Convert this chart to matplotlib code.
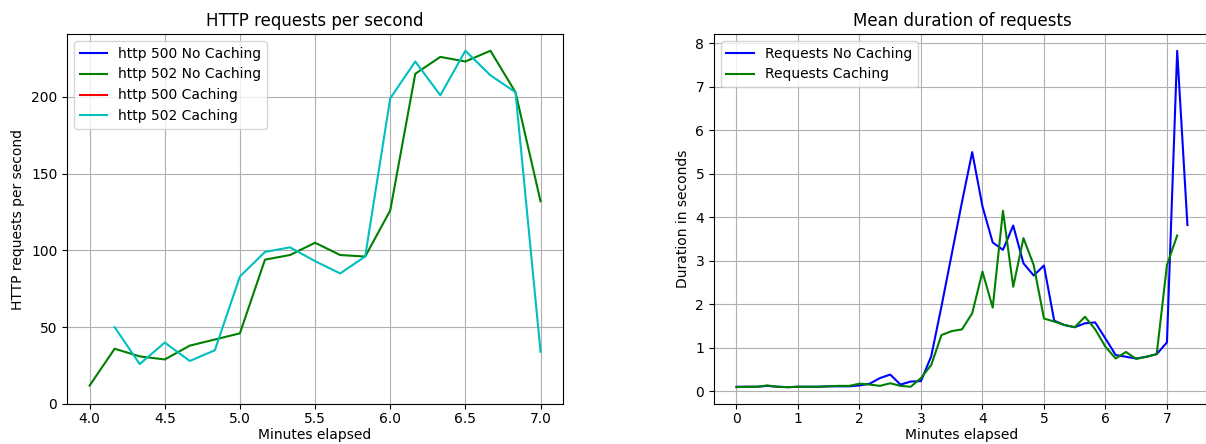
import matplotlib
matplotlib.use("Agg")
import matplotlib.pyplot as plt

# left panel: http error rates, one point every 10 s from minute 4 to 7
minutes_http = [4.0, 4.1667, 4.3333, 4.5, 4.6667, 4.8333, 5.0, 5.1667, 5.3333, 5.5,
                5.6667, 5.8333, 6.0, 6.1667, 6.3333, 6.5, 6.6667, 6.8333, 7.0]
http500_no_cache = []  # no 500 errors recorded
http502_no_cache = [12, 36, 31, 29, 38, 42, 46, 94, 97, 105,
                    97, 96, 126, 215, 226, 223, 230, 203, 132]
http500_cache = []
minutes_http_cache = minutes_http[1:]
http502_cache = [50, 26, 40, 28, 35, 83, 99, 102, 93,
                 85, 96, 199, 223, 201, 230, 214, 203, 34]

# right panel: mean request duration, one point every 10 s
minutes_dur = [k / 6 for k in range(45)]
dur_no_cache = [0.10, 0.10, 0.10, 0.12, 0.10, 0.09, 0.10, 0.10, 0.10, 0.11,
                0.11, 0.11, 0.13, 0.17, 0.30, 0.38, 0.15, 0.22, 0.23, 0.80,
                1.95, 3.15, 4.35, 5.50, 4.25, 3.42, 3.25, 3.81, 2.94, 2.66,
                2.89, 1.62, 1.52, 1.47, 1.56, 1.58, 1.21, 0.83, 0.79, 0.75,
                0.79, 0.85, 1.12, 7.83, 3.82]
dur_cache = [0.09, 0.10, 0.10, 0.13, 0.10, 0.09, 0.10, 0.10, 0.10, 0.11,
             0.12, 0.12, 0.17, 0.15, 0.12, 0.18, 0.12, 0.10, 0.30, 0.60,
             1.29, 1.38, 1.42, 1.79, 2.75, 1.92, 4.15, 2.40, 3.52, 2.90,
             1.67, 1.60, 1.52, 1.47, 1.71, 1.42, 1.02, 0.75, 0.90, 0.74,
             0.79, 0.85, 2.90, 3.58]

fig = plt.figure(figsize=(12.06, 4.44), dpi=100)
ax1 = fig.add_axes([0.0556, 0.0901, 0.4113, 0.8333])
ax2 = fig.add_axes([0.592, 0.0901, 0.4113, 0.8333])

ax1.plot(minutes_http[:len(http500_no_cache)], http500_no_cache, 'b', label='http 500 No Caching')
ax1.plot(minutes_http, http502_no_cache, 'g', label='http 502 No Caching')
ax1.plot(minutes_http_cache[:len(http500_cache)], http500_cache, 'r', label='http 500 Caching')
ax1.plot(minutes_http_cache, http502_cache, 'c', label='http 502 Caching')
ax1.set_ylim(bottom=0)
ax1.set_title('HTTP requests per second', fontsize=12)
ax1.set_xlabel('Minutes elapsed', labelpad=1)
ax1.set_ylabel('HTTP requests per second')
ax1.grid()
ax1.legend(loc='upper left')

ax2.plot(minutes_dur, dur_no_cache, 'b', label='Requests No Caching')
ax2.plot(minutes_dur[:len(dur_cache)], dur_cache, 'g', label='Requests Caching')
ax2.set_title('Mean duration of requests', fontsize=12)
ax2.set_xlabel('Minutes elapsed', labelpad=1)
ax2.set_ylabel('Duration in seconds')
ax2.grid()
ax2.legend(loc='upper left')

for ax in (ax1, ax2):
    ax.tick_params(axis='x', pad=2.5)

fig.savefig('out.png', dpi=100)
